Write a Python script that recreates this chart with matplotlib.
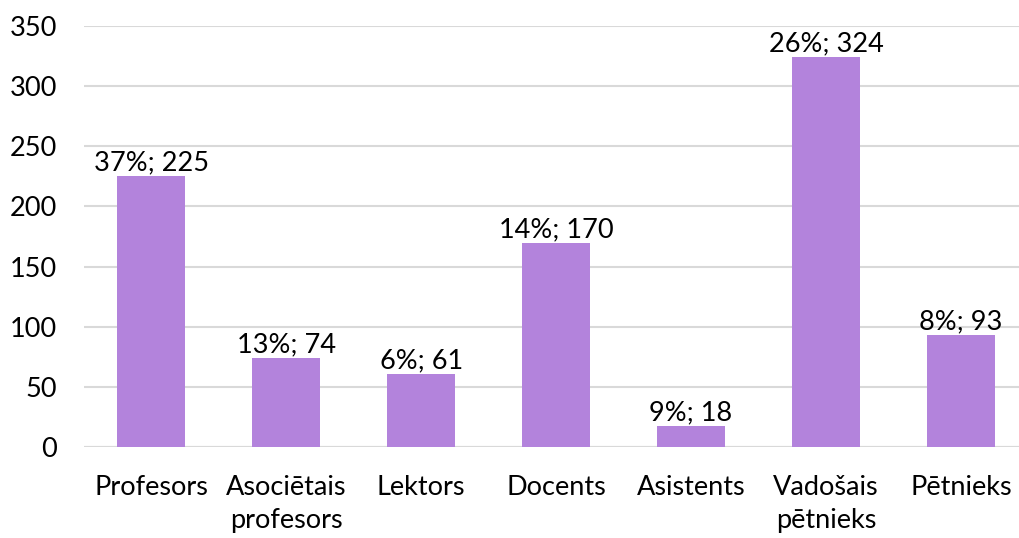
import matplotlib
matplotlib.use("Agg")
import matplotlib.pyplot as plt

categories = ["Profesors", "Asociētais\nprofesors", "Lektors", "Docents",
              "Asistents", "Vadošais\npētnieks", "Pētnieks"]
counts = [225, 74, 61, 170, 18, 324, 93]
shares = [37, 13, 6, 14, 9, 26, 8]

plt.rcParams['font.family'] = ['Lato', 'DejaVu Sans']

fig = plt.figure(figsize=(10.2, 5.38), dpi=100)
ax = fig.add_axes([0.082, 0.1686, 0.918, 0.7836])

x = range(len(categories))
bars = ax.bar(x, counts, width=0.5, color="#B383DC", zorder=3)

# labels "pct; value" above each bar
for b, c, s in zip(bars, counts, shares):
  ax.text(b.get_x() + b.get_width() / 2, c + 0.5, f"{s}%; {c}",
          ha="center", va="bottom", fontsize=19.5, color="black")

ax.set_xlim(-0.5, 6.437)
ax.set_ylim(0, 350)
ax.set_yticks(range(0, 351, 50))
ax.set_xticks(list(x))
ax.set_xticklabels(categories, fontsize=19.5, linespacing=1.38)
ax.tick_params(axis="y", labelsize=19.5, length=0, pad=19)
ax.tick_params(axis="x", length=0, pad=20)
ax.yaxis.grid(True, color="#D9D9D9", linewidth=1.5, zorder=0)
for sp in ax.spines.values():
  sp.set_visible(False)
ax.axhline(0, color="#D9D9D9", linewidth=1.5, zorder=2)

fig.savefig("out.png", dpi=100)
